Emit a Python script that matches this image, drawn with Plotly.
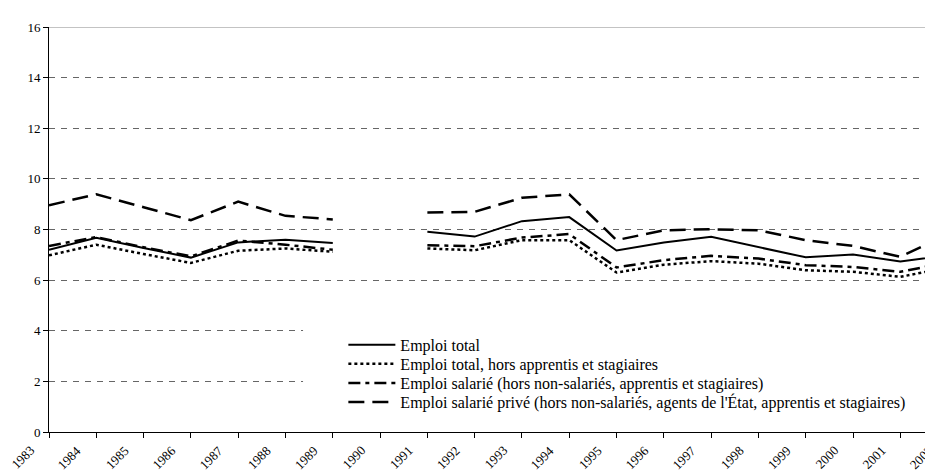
import plotly.graph_objects as go

years = list(range(1983, 2003))
year_labels = [str(y) for y in years]

emploi_total = [7.20, 7.67, 7.27, 6.89, 7.49, 7.60, 7.47, None, 7.91, 7.72,
                8.33, 8.49, 7.17, 7.49, 7.71, 7.31, 6.90, 7.01, 6.74, 6.97]
emploi_total_hors = [6.98, 7.40, 7.03, 6.68, 7.16, 7.25, 7.12, None, 7.25, 7.18,
                     7.58, 7.58, 6.30, 6.61, 6.75, 6.65, 6.39, 6.33, 6.13, 6.50]
emploi_salarie = [7.35, 7.70, 7.30, 6.94, 7.56, 7.40, 7.20, None, 7.38, 7.34,
                  7.68, 7.82, 6.50, 6.79, 6.96, 6.85, 6.59, 6.52, 6.33, 6.70]
emploi_salarie_prive = [8.96, 9.39, 8.88, 8.37, 9.10, 8.54, 8.40, None, 8.67, 8.70,
                        9.25, 9.39, 7.58, 7.97, 8.01, 7.97, 7.58, 7.35, 6.92, 7.81]

names = [
    "Emploi total",
    "Emploi total, hors apprentis et stagiaires",
    "Emploi salarié (hors non-salariés, apprentis et stagiaires)",
    "Emploi salarié privé (hors non-salariés, agents de l'État, apprentis et stagiaires)",
]
y_ticks = [0, 2, 4, 6, 8, 10, 12, 14, 16]

FONT = "Liberation Serif, Times New Roman, serif"
X_RANGE = [1983, 2001.86]

fig = go.Figure()
styles = [
    dict(color="black", width=2, dash="solid"),
    dict(color="black", width=2.5, dash="3px,3px"),
    dict(color="black", width=2.5, dash="12px,5px,4px,5px"),
    dict(color="black", width=2.5, dash="16px,8px"),
]
legend_ids = ["legend", "legend2", "legend3", "legend4"]
legend_tops = [0.257, 0.210, 0.163, 0.116]

for name, vals, st, lid in zip(names, [emploi_total, emploi_total_hors, emploi_salarie, emploi_salarie_prive], styles, legend_ids):
    fig.add_trace(go.Scatter(x=years, y=vals, name=name, mode="lines",
                             line=st, connectgaps=False, legend=lid))

legend_common = dict(x=0.33, xanchor="left", yanchor="top", bgcolor="rgba(0,0,0,0)",
                     borderwidth=0, font=dict(family=FONT, size=16, color="black"),
                     itemwidth=47)
layout_legends = {lid: dict(legend_common, y=ly) for lid, ly in zip(legend_ids, legend_tops)}

fig.update_layout(
    width=933, height=470,
    margin=dict(l=41, r=0, t=19, b=46),
    paper_bgcolor="white", plot_bgcolor="white",
    font=dict(family=FONT, size=13, color="black"),
    showlegend=True,
    xaxis=dict(range=X_RANGE, tickmode="array", tickvals=years,
               showticklabels=False,
               showline=True, linecolor="black", linewidth=1,
               ticks="outside", ticklen=5, tickcolor="black",
               showgrid=False, zeroline=False),
    yaxis=dict(range=[0, 16], tickvals=y_ticks, showline=True, linecolor="black",
               linewidth=1, ticks="outside", ticklen=5, tickcolor="black",
               showgrid=True, gridcolor="#666666", griddash="6px,6px", gridwidth=1,
               zeroline=False, tickfont=dict(family=FONT, size=13)),
    **layout_legends,
)
# top border line at 16
fig.add_shape(type="line", xref="paper", yref="y", x0=0, x1=1, y0=16, y1=16,
              line=dict(color="#888888", width=1))
# white legend box area hiding lower gridlines
fig.add_shape(type="rect", xref="paper", yref="y", x0=0.2848, x1=1.0, y0=0.6, y1=4.6,
              fillcolor="white", line=dict(width=0), layer="above")

# rotated year labels (placed through the x scale, converted to paper coords)
for yr, lab in zip(years, year_labels):
    xp = (yr - X_RANGE[0]) / (X_RANGE[1] - X_RANGE[0])
    fig.add_annotation(x=xp, y=0, xref="paper", yref="y", text=lab,
                       textangle=-45, showarrow=False, xanchor="right", yanchor="top",
                       font=dict(family=FONT, size=13, color="black"),
                       xshift=-9, yshift=-8)

fig.write_html("out.html")
